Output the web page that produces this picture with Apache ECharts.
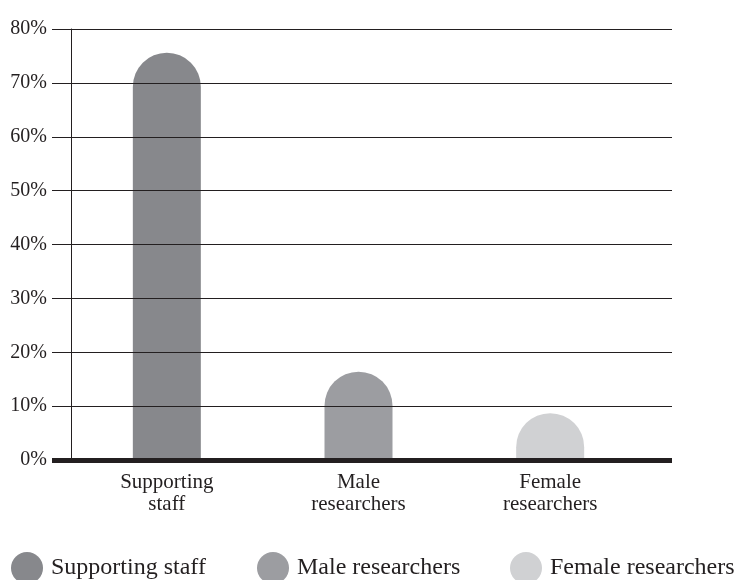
<!DOCTYPE html>
<html>
<head>
<meta charset="utf-8">
<script src="https://cdn.jsdelivr.net/npm/echarts@6/dist/echarts.min.js"></script>
<style>
html,body{margin:0;padding:0;background:#fff;}
#main{width:739px;height:580px;}
</style>
</head>
<body>
<div id="main"></div>
<script>
var categories = ['Supporting\nstaff', 'Male\nresearchers', 'Female\nresearchers'];
var seriesNames = ['Supporting staff', 'Male researchers', 'Female researchers'];
var values = [75.6, 16.4, 8.7];
var yTicks = { min: 0, max: 80, interval: 10 };
var colors = ['#87888c', '#9c9da1', '#d0d1d3'];

var FONT = '"Liberation Serif", "DejaVu Serif", serif';
var INK = '#231f20';

var chart = echarts.init(document.getElementById('main'), null, { renderer: 'canvas' });

var series = seriesNames.map(function (name, i) {
  return {
    name: name,
    type: 'bar',
    xAxisIndex: 1,
    yAxisIndex: 1,
    barWidth: 68,
    barGap: '-100%',
    z: 1,
    itemStyle: { color: colors[i], borderRadius: [34, 34, 0, 0] },
    data: categories.map(function (c, j) { return j === i ? values[i] : '-'; })
  };
});

var legendLefts = [11, 257, 510];
var legends = seriesNames.map(function (name, i) {
  return {
    data: [name],
    left: legendLefts[i],
    top: 552,
    padding: 0,
    icon: 'circle',
    itemWidth: 32,
    itemHeight: 32,
    selectedMode: false,
    textStyle: { fontFamily: FONT, fontSize: 24, color: INK, padding: [0, 0, 0, 3] }
  };
});

chart.setOption({
  backgroundColor: '#ffffff',
  animation: false,
  legend: legends,
  grid: [
    { left: 52, right: 67, top: 29, bottom: 120 },
    { left: 71, right: 93, top: 29, bottom: 120 }
  ],
  xAxis: [
    {
      gridIndex: 0, type: 'category', data: categories, z: 10,
      axisLine: { show: true, lineStyle: { color: INK, width: 5, cap: 'butt' } },
      axisTick: { show: false }, axisLabel: { show: false }, splitLine: { show: false }
    },
    {
      gridIndex: 1, type: 'category', data: categories,
      axisLine: { show: false }, axisTick: { show: false },
      axisLabel: { fontFamily: FONT, fontSize: 21, color: INK, lineHeight: 22, margin: 11, interval: 0 }
    }
  ],
  yAxis: [
    {
      gridIndex: 0, type: 'value', min: yTicks.min, max: yTicks.max, interval: yTicks.interval, z: 10,
      axisLine: { show: false }, axisTick: { show: false },
      axisLabel: { fontFamily: FONT, fontSize: 20, color: INK, margin: 5, formatter: '{value}%' },
      splitLine: { show: true, lineStyle: { color: INK, width: 1 } }
    },
    {
      gridIndex: 1, type: 'value', min: yTicks.min, max: yTicks.max, interval: yTicks.interval,
      axisLine: { show: true, lineStyle: { color: INK, width: 1 } },
      axisTick: { show: false }, axisLabel: { show: false }, splitLine: { show: false }
    }
  ],
  series: series
});
</script>
</body>
</html>
